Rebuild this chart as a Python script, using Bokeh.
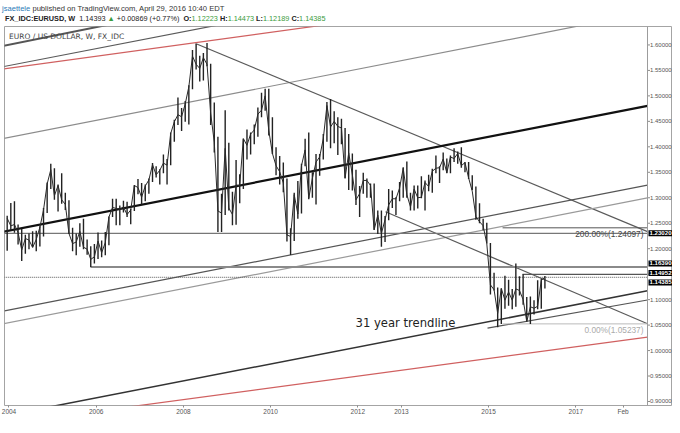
from bokeh.plotting import figure
from bokeh.layouts import column
from bokeh.models import (Range1d, Label, Span, FixedTicker, CustomJSTickFormatter,
                          ColumnDataSource, Div)
from bokeh.core.properties import value
from bokeh.embed import file_html
from bokeh.resources import INLINE

# ---------------- data ----------------
first_year, first_month = 2003, 12
# monthly EUR/USD bars (Dec 2003 .. Apr 2016)
bar_high = [
    1.2647,                                                                                          # 2003
    1.2898, 1.2932, 1.2475, 1.2385, 1.2275, 1.2300, 1.2340, 1.2350, 1.2440, 1.2800, 1.3300, 1.3667,  # 2004
    1.3580, 1.3260, 1.3480, 1.3100, 1.2950, 1.2410, 1.2300, 1.2500, 1.2590, 1.2180, 1.2050, 1.2090,  # 2005
    1.2320, 1.2160, 1.2330, 1.2630, 1.2980, 1.2980, 1.2850, 1.2940, 1.2920, 1.2780, 1.3250, 1.3370,  # 2006
    1.3290, 1.3260, 1.3380, 1.3680, 1.3620, 1.3560, 1.3850, 1.3760, 1.4280, 1.4530, 1.4970, 1.4760,  # 2007
    1.4900, 1.5210, 1.5900, 1.6020, 1.5790, 1.5840, 1.6038, 1.5630, 1.4870, 1.4200, 1.3080, 1.4720,  # 2008
    1.4080, 1.3120, 1.3740, 1.3460, 1.4160, 1.4340, 1.4280, 1.4440, 1.4770, 1.5060, 1.5140, 1.5140,  # 2009
    1.4580, 1.3990, 1.3820, 1.3690, 1.3380, 1.2400, 1.3100, 1.3330, 1.3670, 1.4160, 1.4280, 1.3500,  # 2010
    1.3860, 1.3860, 1.4250, 1.4880, 1.4940, 1.4700, 1.4580, 1.4550, 1.4370, 1.4250, 1.3870, 1.3550,  # 2011
    1.3230, 1.3490, 1.3380, 1.3280, 1.3280, 1.2750, 1.2750, 1.2640, 1.3170, 1.3140, 1.3010, 1.3310,  # 2012
    1.3600, 1.3710, 1.3100, 1.3240, 1.3240, 1.3420, 1.3340, 1.3450, 1.3570, 1.3830, 1.3620, 1.3890,  # 2013
    1.3770, 1.3830, 1.3970, 1.3910, 1.3990, 1.3700, 1.3700, 1.3440, 1.3220, 1.2890, 1.2590, 1.2510,  # 2014
    1.2110, 1.1530, 1.1240, 1.1220, 1.1470, 1.1390, 1.1210, 1.1710, 1.1460, 1.1500, 1.1050, 1.1060,  # 2015
    1.0990, 1.1380, 1.1410, 1.1464,                                                                  # 2016
]
bar_low = [
    1.1960,
    1.2365, 1.2314, 1.2082, 1.1760, 1.1900, 1.1990, 1.2030, 1.1950, 1.2045, 1.2240, 1.2700, 1.3170,
    1.2960, 1.2730, 1.2880, 1.2760, 1.2290, 1.1950, 1.1870, 1.2040, 1.1990, 1.1880, 1.1640, 1.1710,
    1.1800, 1.1830, 1.1870, 1.2070, 1.2620, 1.2460, 1.2460, 1.2710, 1.2620, 1.2480, 1.2740, 1.3070,
    1.2870, 1.2930, 1.3080, 1.3310, 1.3400, 1.3260, 1.3480, 1.3260, 1.3640, 1.4100, 1.4430, 1.4310,
    1.4490, 1.4440, 1.5130, 1.5520, 1.5280, 1.5300, 1.5580, 1.4430, 1.3890, 1.2330, 1.2330, 1.2660,
    1.2750, 1.2460, 1.2470, 1.2890, 1.3170, 1.3750, 1.3850, 1.4050, 1.4200, 1.4580, 1.4710, 1.4220,
    1.3860, 1.3440, 1.3260, 1.3110, 1.2140, 1.1876, 1.2150, 1.2590, 1.2690, 1.3620, 1.2970, 1.3000,
    1.2870, 1.3430, 1.3750, 1.4100, 1.3970, 1.4070, 1.3840, 1.4050, 1.3380, 1.3150, 1.3140, 1.2860,
    1.2620, 1.3080, 1.3000, 1.3000, 1.2370, 1.2290, 1.2040, 1.2130, 1.2560, 1.2800, 1.2660, 1.2930,
    1.3000, 1.3000, 1.2750, 1.2750, 1.2790, 1.2990, 1.2750, 1.3130, 1.3100, 1.3480, 1.3290, 1.3540,
    1.3480, 1.3480, 1.3700, 1.3670, 1.3590, 1.3500, 1.3370, 1.3150, 1.2570, 1.2500, 1.2360, 1.2100,
    1.1100, 1.1180, 1.0460, 1.0520, 1.0820, 1.0880, 1.0810, 1.0860, 1.1080, 1.0900, 1.0570, 1.0520,
    1.0710, 1.0810, 1.0820, 1.1217,
]
bar_close = [
    1.2597,
    1.2448, 1.2475, 1.2315, 1.1975, 1.2200, 1.2170, 1.2025, 1.2180, 1.2420, 1.2760, 1.3270, 1.3550,
    1.3040, 1.3240, 1.2960, 1.2870, 1.2300, 1.2100, 1.2130, 1.2340, 1.2030, 1.1990, 1.1790, 1.1840,
    1.2150, 1.1920, 1.2120, 1.2620, 1.2810, 1.2790, 1.2770, 1.2820, 1.2670, 1.2760, 1.3240, 1.3200,
    1.3010, 1.3230, 1.3350, 1.3650, 1.3450, 1.3540, 1.3680, 1.3640, 1.4260, 1.4490, 1.4630, 1.4590,
    1.4840, 1.5180, 1.5780, 1.5620, 1.5540, 1.5750, 1.5620, 1.4660, 1.4090, 1.2740, 1.2700, 1.3970,
    1.2800, 1.2670, 1.3250, 1.3240, 1.4160, 1.4030, 1.4250, 1.4330, 1.4640, 1.4720, 1.5000, 1.4320,
    1.3870, 1.3630, 1.3510, 1.3290, 1.2270, 1.2240, 1.3060, 1.2680, 1.3630, 1.3940, 1.2990, 1.3380,
    1.3700, 1.3800, 1.4160, 1.4810, 1.4390, 1.4500, 1.4400, 1.4370, 1.3390, 1.3880, 1.3450, 1.2960,
    1.3080, 1.3340, 1.3340, 1.3240, 1.2370, 1.2660, 1.2300, 1.2570, 1.2860, 1.2980, 1.2980, 1.3190,
    1.3580, 1.3060, 1.2820, 1.3170, 1.3000, 1.3010, 1.3300, 1.3220, 1.3520, 1.3580, 1.3590, 1.3760,
    1.3490, 1.3800, 1.3770, 1.3870, 1.3630, 1.3690, 1.3390, 1.3130, 1.2630, 1.2530, 1.2450, 1.2100,
    1.1290, 1.1195, 1.0730, 1.1220, 1.0990, 1.1150, 1.0990, 1.1210, 1.1180, 1.1000, 1.0570, 1.0860,
    1.0830, 1.0870, 1.1380, 1.14385,
]

# drawn trend lines: anchor points (decimal year, price)
trend_x0 = [2003.88, 2003.88, 2003.88, 2003.88, 2008.278, 2003.88, 2003.897, 2003.88, 2003.90, 2005.20, 2012.635, 2014.975]
trend_p0 = [1.5984, 1.5576, 1.5529, 1.4163, 1.6029, 1.2335, 1.0779, 1.0527, 0.8722, 0.8715, 1.2724, 1.0440]
trend_x1 = [2006.60, 2009.20, 2011.80, 2017.60, 2018.6445, 2018.6445, 2018.6445, 2018.6445, 2018.6445, 2018.6445, 2018.6445, 2018.6445]
trend_p1 = [1.6453, 1.6458, 1.6459, 1.6463, 1.2335, 1.4804, 1.3249, 1.2996, 1.1174, 1.0264, 1.0527, 1.0993]
trend_color = ["#555555", "#5a5a5a", "#d06060", "#8c8c8c", "#5a5a5a", "#111111",
               "#555555", "#9a9a9a", "#333333", "#d06060", "#5a5a5a", "#555555"]
trend_width = [2.0, 1.2, 1.2, 1.2, 1.2, 2.2, 1.2, 1.2, 1.5, 1.2, 1.2, 1.2]

# horizontal levels (price, start year); last one is the current price
level_values = [1.23020, 1.16390, 1.14952, 1.14385]
level_starts = [2003.88, 2005.869, 2015.778, 2003.88]
level_color = ["#777777", "#8a8a8a", "#555555", "#555555"]
level_width = [1.2, 2.0, 1.2, 1.0]

# fibonacci tool
fib_pcts = ["200.00%", "0.00%"]
fib_values = [1.24097, 1.05237]
fib_start = [2015.32, 2015.32]
fib_color = ["#555555", "#bbbbbb"]
fib_text_color = ["#444444", "#aaaaaa"]

price_ticks = [0.90, 0.95, 1.00, 1.05, 1.10, 1.15, 1.20, 1.25, 1.30, 1.35, 1.40, 1.45, 1.50, 1.55, 1.60]
time_ticks = [2004, 2006, 2008, 2010, 2012, 2013, 2015, 2017, 2018.085]
time_tick_labels = ["2004", "2006", "2008", "2010", "2012", "2013", "2015", "2017", "Feb"]

header_author = "jsaettele"
header_published = "published on TradingView.com, April 29, 2016 10:40 EDT"
header_symbol = "FX_IDC:EURUSD, W"
header_last = 1.14393
header_change = 0.00869
header_change_pct = 0.77
header_ohlc_names = ["O:", "H:", "L:", "C:"]
header_ohlc = [1.12223, 1.14473, 1.12189, 1.14385]
chart_title = "EURO / US DOLLAR, W, FX_IDC"

# ---------------- layout ----------------
W = 672
HEADER_H = 26
FIG_H = 391
FRAME_BOTTOM_BORDER = 11
PX_YEAR = 43.6
PX_UNIT = 510.7
X0 = 2003.89679           # frame left  (image x = 4)
X1 = 2019.21789           # frame right (image x = 672)
AXIS_X = 2018.6445        # price-axis line (image x = 647)
Y1 = 1.63622              # frame top   (image y = 26)
Y0 = Y1 - (FIG_H - FRAME_BOTTOM_BORDER) / PX_UNIT


def xi(img_x):
    return X0 + (img_x - 4) / PX_YEAR


def yi(img_y):
    return Y1 - (img_y - HEADER_H) / PX_UNIT


p = figure(width=W, height=FIG_H, x_range=Range1d(X0, X1), y_range=Range1d(Y0, Y1),
           output_backend="svg", toolbar_location=None, y_axis_location=None,
           min_border_left=4, min_border_top=0, min_border_right=0,
           min_border_bottom=FRAME_BOTTOM_BORDER)
p.background_fill_color = "white"
p.border_fill_color = "white"
p.outline_line_color = "#a4a4a4"
p.outline_line_width = 1
p.xgrid.visible = False
p.ygrid.visible = False

xa = p.xaxis[0]
xa.axis_line_color = None
xa.major_tick_line_color = "#8c8c8c"
xa.major_tick_out = 2
xa.major_tick_in = 0
xa.minor_tick_line_color = None
xa.major_label_text_font = "Liberation Sans"
xa.major_label_text_font_size = "6.5px"
xa.major_label_text_color = "#555555"
xa.major_label_standoff = 0
xa.ticker = FixedTicker(ticks=time_ticks)
xa.formatter = CustomJSTickFormatter(
    args=dict(vals=time_ticks, txt=time_tick_labels),
    code="""
    for (let i = 0; i < vals.length; i++) {
        if (Math.abs(tick - vals[i]) < 1e-6) { return txt[i]; }
    }
    return "";
    """)

# price axis (drawn on the chart's own y scale, right-hand side)
p.add_layout(Span(location=AXIS_X, dimension="height", line_color="#9c9c9c", line_width=1))
p.segment(x0=[AXIS_X] * len(price_ticks), y0=price_ticks,
          x1=[xi(649.5)] * len(price_ticks), y1=price_ticks, line_color="#8c8c8c", line_width=1)
p.text(x=[xi(649.5)] * len(price_ticks), y=price_ticks,
       text=[f"{t:.5f}" for t in price_ticks], text_baseline="middle", text_align="left",
       text_font=value("Liberation Sans"), text_font_size=value("6px"), text_color="#555555")

# trend lines
tsrc = ColumnDataSource(dict(x0=trend_x0, y0=trend_p0, x1=trend_x1, y1=trend_p1,
                             c=trend_color, w=trend_width))
p.segment(x0="x0", y0="y0", x1="x1", y1="y1", line_color="c", line_width="w", source=tsrc)

# horizontal levels
for v, s, c, w in zip(level_values[:-1], level_starts[:-1], level_color[:-1], level_width[:-1]):
    p.segment(x0=[s], y0=[v], x1=[AXIS_X], y1=[v], line_color=c, line_width=w)
p.segment(x0=[level_starts[-1]], y0=[level_values[-1]], x1=[AXIS_X], y1=[level_values[-1]],
          line_color=level_color[-1], line_width=level_width[-1], line_dash="1 1")

# fib levels
for pct, v, s, c, tc in zip(fib_pcts, fib_values, fib_start, fib_color, fib_text_color):
    p.segment(x0=[s], y0=[v], x1=[AXIS_X], y1=[v], line_color=c, line_width=1)
    p.add_layout(Label(x=xi(643), y=v - 6.0 / PX_UNIT, text=f"{pct}({v:.5f})",
                       text_align="right", text_baseline="middle",
                       text_font="Liberation Sans", text_font_size="8.3px", text_color=tc))

# price bars
bar_x = [first_year + (first_month - 1 + i + 0.5) / 12 for i in range(len(bar_close))]
bsrc = ColumnDataSource(dict(x=bar_x, hi=bar_high, lo=bar_low, cl=bar_close))
p.segment(x0="x", y0="lo", x1="x", y1="hi", line_color="#222222", line_width=1.4, source=bsrc)
p.line("x", "cl", line_color="#2a2a2a", line_width=1.0, source=bsrc)

# text annotations
p.add_layout(Label(x=xi(355), y=yi(323), text="31 year trendline", text_baseline="middle",
                   text_font="DejaVu Sans", text_font_size="11.6px", text_color="#222222"))
p.add_layout(Label(x=xi(8.5), y=yi(36), text=chart_title, text_baseline="middle",
                   text_font="DejaVu Sans", text_font_size="7.5px", text_color="#444444"))


# price boxes on the price axis, spread apart like the chart does
def spread(vals, gap):
    order = sorted(range(len(vals)), key=lambda i: -vals[i])
    groups = [[order[0]]]
    for i in order[1:]:
        if vals[groups[-1][-1]] - vals[i] < gap:
            groups[-1].append(i)
        else:
            groups.append([i])
    out = [0.0] * len(vals)
    for g in groups:
        m = sum(vals[i] for i in g) / len(g)
        n = len(g)
        for k, i in enumerate(g):
            out[i] = m + ((n - 1) / 2 - k) * gap
    return out


box_y = spread(level_values, 9.5 / PX_UNIT)
for v, yb in zip(level_values, box_y):
    p.add_layout(Label(x=xi(648), y=yb, text=f"{v:.5f}", text_baseline="middle",
                       text_font="Liberation Sans", text_font_size="6.1px", text_font_style="bold",
                       text_color="white", background_fill_color="black", padding=1))

# header (two lines of text above the chart)
GREEN = "#3c9c3c"
ohlc_html = " ".join(f'<b>{n}</b><span style="color:{GREEN}">{v:.5f}</span>'
                     for n, v in zip(header_ohlc_names, header_ohlc))
line1 = f'<span style="color:#2a7ab8">{header_author}</span> {header_published}'
line2 = (f'<b>{header_symbol}</b>&nbsp; {header_last:.5f} '
         f'<span style="color:{GREEN}">&#9650;</span> +{header_change:.5f} '
         f'(+{header_change_pct:.2f}%)&nbsp; {ohlc_html}')
html = (
    '<div style="font-family:\'Liberation Sans\',sans-serif;line-height:10px;'
    'color:#333333;white-space:nowrap;padding-top:4px;">'
    f'<div style="padding-left:2px;font-size:7.6px">{line1}</div>'
    f'<div style="padding-left:5px;font-size:7.3px;color:#222222">{line2}</div></div>'
)
header = Div(text=html, width=W, height=HEADER_H, margin=(0, 0, 0, 0))

layout = column(header, p, spacing=0)
open("out.html", "w").write(file_html(layout, INLINE))
